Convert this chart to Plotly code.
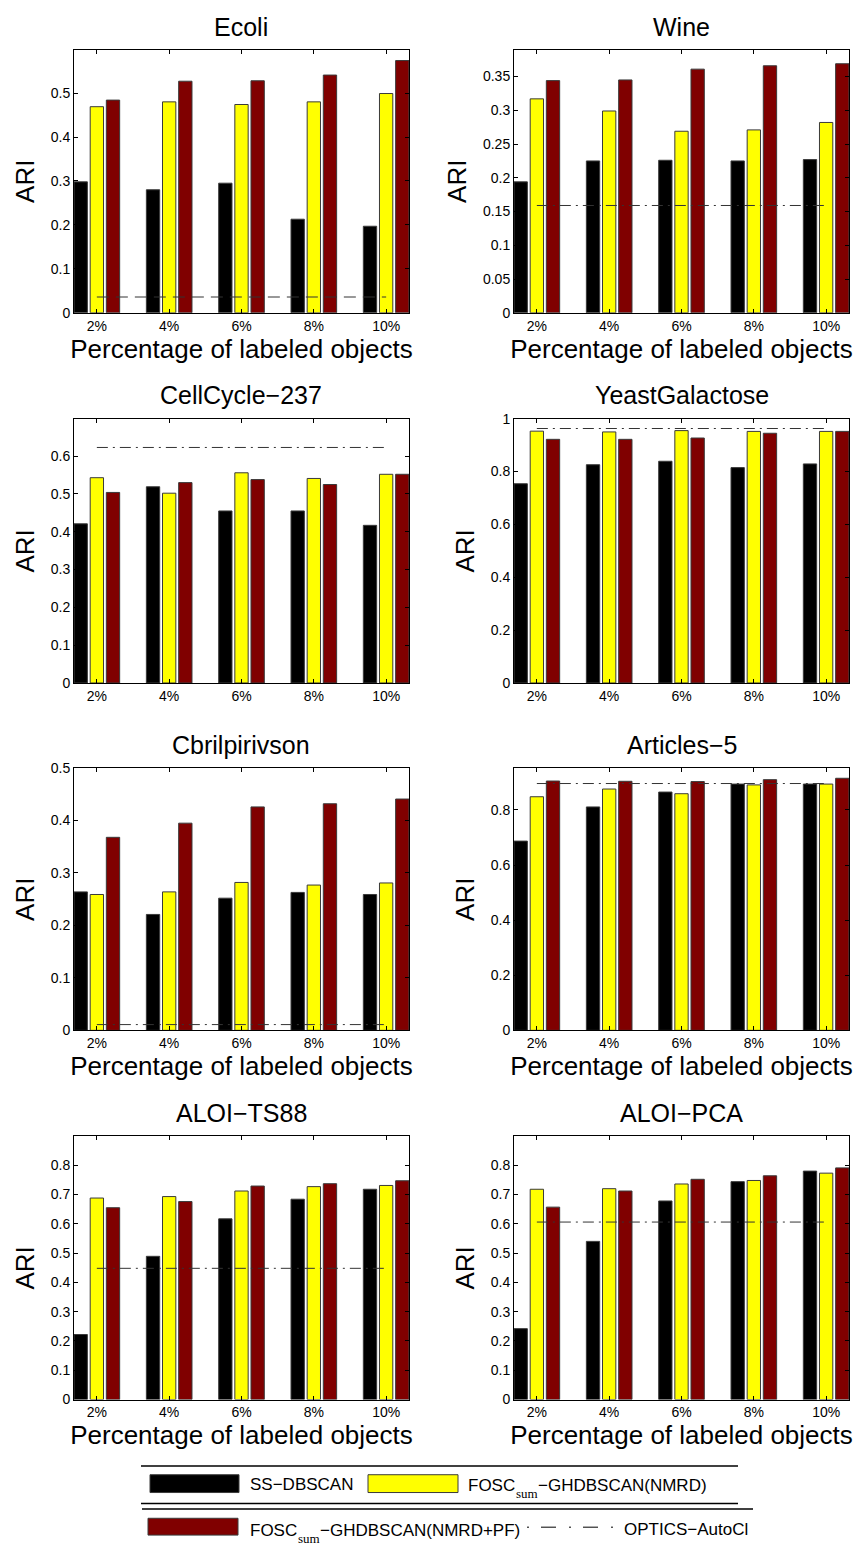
import plotly.graph_objects as go

W, H = 860, 1553

# ---------------- data ----------------
categories = ["2%", "4%", "6%", "8%", "10%"]
xpos = [1, 2, 3, 4, 5]
datasets = ["Ecoli", "Wine", "CellCycle\u2212237", "YeastGalactose",
            "Cbrilpirivson", "Articles\u22125", "ALOI\u2212TS88", "ALOI\u2212PCA"]

ss_dbscan = [
    [0.298, 0.280, 0.295, 0.213, 0.197],
    [0.194, 0.225, 0.226, 0.225, 0.227],
    [0.421, 0.519, 0.455, 0.455, 0.417],
    [0.754, 0.826, 0.839, 0.815, 0.829],
    [0.264, 0.221, 0.252, 0.263, 0.259],
    [0.687, 0.811, 0.865, 0.894, 0.894],
    [0.222, 0.489, 0.617, 0.684, 0.718],
    [0.242, 0.540, 0.678, 0.744, 0.780],
]
fosc_nmrd = [
    [0.469, 0.480, 0.474, 0.480, 0.499],
    [0.317, 0.299, 0.269, 0.271, 0.282],
    [0.543, 0.502, 0.556, 0.541, 0.552],
    [0.953, 0.950, 0.955, 0.952, 0.952],
    [0.259, 0.264, 0.282, 0.277, 0.281],
    [0.848, 0.876, 0.859, 0.891, 0.894],
    [0.688, 0.693, 0.712, 0.727, 0.731],
    [0.718, 0.720, 0.736, 0.748, 0.773],
]
fosc_nmrd_pf = [
    [0.484, 0.527, 0.528, 0.541, 0.574],
    [0.344, 0.345, 0.361, 0.366, 0.369],
    [0.504, 0.530, 0.538, 0.525, 0.552],
    [0.922, 0.922, 0.927, 0.945, 0.952],
    [0.368, 0.395, 0.426, 0.432, 0.441],
    [0.905, 0.904, 0.903, 0.910, 0.915],
    [0.655, 0.676, 0.729, 0.737, 0.747],
    [0.657, 0.712, 0.752, 0.764, 0.791],
]
optics_autocl = [0.036, 0.159, 0.623, 0.963, 0.011, 0.896, 0.448, 0.606]

y_max = [0.599, 0.39, 0.699, 1.0, 0.5, 0.952, 0.899, 0.899]
y_step = [0.1, 0.05, 0.1, 0.2, 0.1, 0.2, 0.1, 0.1]

legend_labels = ["SS\u2212DBSCAN", "FOSC\u2212GHDBSCAN(NMRD)",
                 "FOSC\u2212GHDBSCAN(NMRD+PF)", "OPTICS\u2212AutoCl"]
legend_sub = "sum"

# ---------------- layout geometry (pixels) ----------------
col_px = [(74, 409), (514, 849)]
row_px = [(42, 308), (415, 682), (768, 1033), (1140, 1406)]
title_y = [19, 391, 745, 1117]
show_xtitle = [True, False, True, True]

COLORS = ["#000000", "#FFFF00", "#800000"]
FONT = "Liberation Sans, Arial, Helvetica, sans-serif"
SERIF = "Liberation Serif, Times New Roman, serif"
LEG_SIZE = 17
SUB_SIZE = 13


def px(x):
    return x / W


def py(y):
    return 1 - y / H


def fmt(v):
    return ("%.2f" % v).rstrip("0").rstrip(".")


fig = go.Figure()
layout = dict(
    width=W, height=H,
    margin=dict(l=0, r=0, t=0, b=0),
    paper_bgcolor="white", plot_bgcolor="white",
    barmode="group", bargap=0.33, bargroupgap=0.175,
    showlegend=False,
    font=dict(family=FONT, color="black"),
)
annotations = []
shapes = []

for i, name in enumerate(datasets):
    r, c = divmod(i, 2)
    k = i + 1
    xa = "x" if k == 1 else "x%d" % k
    ya = "y" if k == 1 else "y%d" % k
    series = [ss_dbscan[i], fosc_nmrd[i], fosc_nmrd_pf[i]]
    for s, vals in enumerate(series):
        fig.add_trace(go.Bar(
            x=xpos, y=vals, xaxis=xa, yaxis=ya,
            marker=dict(color=COLORS[s], line=dict(color="#3a3a3a", width=1)),
            name=legend_labels[s],
        ))
    dash = "12px,7px" if i == 0 else "11px,5px,2px,5px"
    fig.add_trace(go.Scatter(
        x=[xpos[0], xpos[-1]], y=[optics_autocl[i]] * 2, xaxis=xa, yaxis=ya,
        mode="lines", line=dict(color="#333333", width=1, dash=dash),
        name=legend_labels[3],
    ))

    x0, x1 = col_px[c]
    y0, y1 = row_px[r]
    nt = int(round(y_max[i] / y_step[i] + 1e-6))
    tv = [round(j * y_step[i], 4) for j in range(nt + 1)]
    tv = [t for t in tv if t <= y_max[i] + 1e-9]
    xkey = "xaxis" if k == 1 else "xaxis%d" % k
    ykey = "yaxis" if k == 1 else "yaxis%d" % k
    xdict = dict(
        domain=[px(x0), px(x1)], anchor=ya, range=[0.684, 5.316],
        tickvals=xpos, ticktext=categories,
        ticks="inside", ticklen=4, tickcolor="black",
        showline=True, linecolor="black", linewidth=1, mirror="ticks",
        showgrid=False, zeroline=False,
        tickfont=dict(size=14, family=FONT, color="black"),
    )
    if show_xtitle[r]:
        xdict["title"] = dict(text="Percentage of labeled objects",
                              font=dict(size=26, family=FONT, color="black"), standoff=2)
    layout[xkey] = xdict
    layout[ykey] = dict(
        domain=[py(y1), py(y0)], anchor=xa, range=[0, y_max[i]],
        tickvals=tv, ticktext=[fmt(t) for t in tv],
        ticks="inside", ticklen=4, tickcolor="black",
        showline=True, linecolor="black", linewidth=1, mirror="ticks",
        showgrid=False, zeroline=False,
        tickfont=dict(size=14, family=FONT, color="black"),
        title=dict(text="ARI", font=dict(size=26, family=FONT, color="black"), standoff=8),
    )
    annotations.append(dict(
        text=name, x=px((x0 + x1) / 2), y=py(title_y[r]), xref="paper", yref="paper",
        xanchor="center", yanchor="middle", showarrow=False,
        font=dict(size=25, family=FONT, color="black"),
    ))


def note(text, x, y, size=LEG_SIZE, family=FONT):
    annotations.append(dict(text=text, x=px(x), y=py(y), xref="paper", yref="paper",
                            xanchor="left", yanchor="middle", showarrow=False, borderpad=0,
                            font=dict(size=size, family=family, color="black")))


# Arial / Times advance widths (em) for the split legend labels
FOSC_W = (0.611 + 0.778 + 0.667 + 0.722) * LEG_SIZE
SUM_W = (0.389 + 0.5 + 0.778) * SUB_SIZE

# ---------------- legend box ----------------
LINE = dict(color="black", width=1.5)
for (lx0, lx1, ly) in [(141, 738, 1473.3), (141, 738, 1511), (142, 753, 1516.7)]:
    shapes.append(dict(type="line", xref="paper", yref="paper",
                       x0=px(lx0), x1=px(lx1), y0=py(ly), y1=py(ly), line=LINE))

legend_items = [
    (150, 239, 1482, 1500, COLORS[0], 249, 1492, legend_labels[0]),
    (368, 458, 1482, 1500, COLORS[1], 466.5, 1493, legend_labels[1]),
    (148, 238, 1526, 1543, COLORS[2], 249, 1538, legend_labels[2]),
]
for (rx0, rx1, ry0, ry1, col, tx, ty, label) in legend_items:
    shapes.append(dict(type="rect", xref="paper", yref="paper",
                       x0=px(rx0), x1=px(rx1), y0=py(ry1), y1=py(ry0),
                       fillcolor=col, line=dict(color="#3a3a3a", width=1)))
    if label.startswith("FOSC"):
        head, tail = "FOSC", label[4:]
        note(head, tx, ty)
        note(legend_sub, tx + FOSC_W + 0.8, ty + 8, size=SUB_SIZE, family=SERIF)
        note(tail, tx + FOSC_W + SUM_W + 1.6, ty)
    else:
        note(label, tx, ty)

shapes.append(dict(type="line", xref="paper", yref="paper",
                   x0=px(527), x1=px(614), y0=py(1535), y1=py(1535),
                   line=dict(color="black", width=1, dash="2px,12px,15px,13px")))
note(legend_labels[3], 622.5, 1537)

layout["annotations"] = annotations
layout["shapes"] = shapes
fig.update_layout(**layout)
fig.write_html("out.html")
